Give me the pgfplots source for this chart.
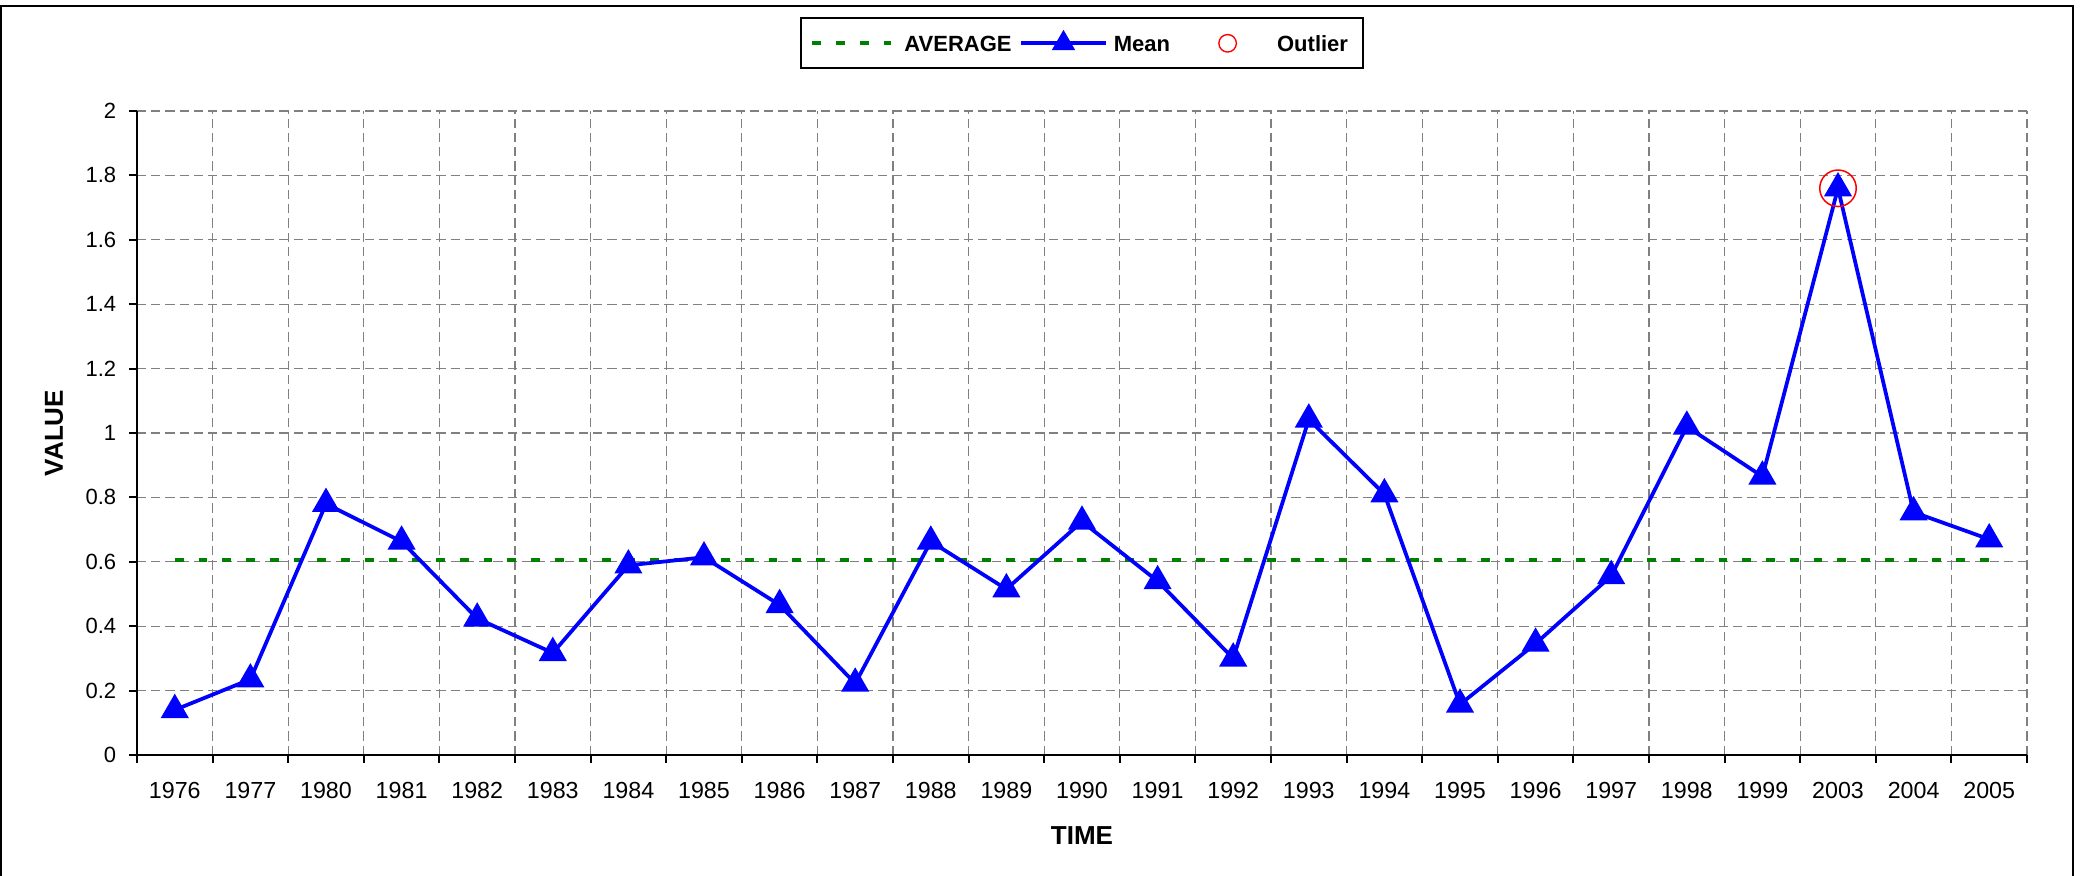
\documentclass[border=0pt]{standalone}
\usepackage{fontspec}
\setmainfont{Liberation Sans}
\usepackage{pgfplots}
\pgfplotsset{compat=1.18}
\definecolor{avggreen}{RGB}{0,128,0}
\definecolor{gridgray}{RGB}{128,128,128}
\pgfplotsset{
  avgimg/.style={legend image code/.code={\path (-3.9pt,0pt) (36pt,0pt);
    \draw[##1] (0pt,0pt) -- (31.6pt,0pt);}},
  meanimg/.style={legend image code/.code={\path (-3pt,0pt) (36.4pt,0pt);
    \draw[##1,mark size=3.9pt,mark repeat=2,mark phase=2] plot coordinates {(0pt,0pt) (17pt,0pt) (34pt,0pt)};}},
  outimg/.style={legend image code/.code={\path (-22.7pt,0pt) (19.5pt,0pt);
    \draw[red, line width=0.55pt] (0pt,0pt) circle[radius=3.5pt];}},
}
\begin{document}
\begin{tikzpicture}
\begin{axis}[
  at={(0pt,0pt)}, anchor=south west,
  scale only axis, width=756pt, height=257.6pt,
  xmin=-0.5, xmax=24.5, ymin=0, ymax=2,
  axis x line=bottom, axis y line=left,
  axis line style={-, black, line width=0.8pt},
  xtick={-0.5,0.5,1.5,2.5,3.5,4.5,5.5,6.5,7.5,8.5,9.5,10.5,11.5,12.5,13.5,14.5,15.5,16.5,17.5,18.5,19.5,20.5,21.5,22.5,23.5,24.5},
  x tick label as interval,
  xticklabels={1976,1977,1980,1981,1982,1983,1984,1985,1986,1987,1988,1989,1990,1991,1992,1993,1994,1995,1996,1997,1998,1999,2003,2004,2005},
  ytick={0,0.2,0.4,0.6,0.8,1,1.2,1.4,1.6,1.8,2},
  tick align=outside, major tick length=3.2pt,
  tick style={black, line width=0.8pt},
  grid=major,
  major grid style={gridgray, line width=0.45pt, dash pattern=on 3.7pt off 2pt},
  /pgf/number format/assume math mode=true,
  xticklabel style={font=\fontsize{9.3}{11}\selectfont, yshift=-4pt},
  yticklabel style={font=\fontsize{8.8}{10}\selectfont, xshift=-1.6pt},
  xlabel={TIME}, ylabel={VALUE},
  label style={font=\bfseries\fontsize{10.4}{12}\selectfont},
  xlabel style={at={(axis description cs:0.5,-0.1258)}, anchor=center},
  ylabel style={at={(axis description cs:-0.0439,0.5)}, anchor=center},
  legend columns=3,
  legend cell align=left,
  legend style={at={(0.5,1)}, anchor=south, yshift=16.8pt,
    draw=black, line width=0.8pt, inner xsep=0pt, inner ysep=6.1pt,
    column sep=0pt,
    font=\bfseries\fontsize{8.8}{10}\selectfont,
    nodes={inner sep=0pt, text height=6.6pt, text depth=0pt}},
]
\addplot[avggreen, line width=1.6pt, dash pattern=on 3.5pt off 6pt, avgimg]
  coordinates {(0,0.607) (24,0.607)};
\addlegendentry{AVERAGE}
\addplot[blue, line width=1.5pt, mark=triangle*, mark size=5pt, meanimg]
  coordinates {
  (0,0.14) (1,0.235) (2,0.78) (3,0.663) (4,0.424) (5,0.317) (6,0.589)
  (7,0.614) (8,0.466) (9,0.222) (10,0.663) (11,0.515) (12,0.725) (13,0.54)
  (14,0.30) (15,1.042) (16,0.81) (17,0.157) (18,0.346) (19,0.556) (20,1.02)
  (21,0.865) (22,1.76) (23,0.754) (24,0.67)};
\addlegendentry{Mean}
\addplot[red, only marks, mark=o, mark size=7.3pt, line width=0.6pt, outimg]
  coordinates {(22,1.76)};
\addlegendentry{Outlier\hspace*{6.1pt}}
\end{axis}
\path (-54.8pt,-48.4pt) rectangle (777.6pt,302pt);
\begin{scope}
\clip (-54.8pt,-48.4pt) rectangle (777.6pt,302pt);
\draw[line width=0.8pt] (-54.4pt,-60pt) -- (-54.4pt,299.6pt) -- (774.4pt,299.6pt) -- (774.4pt,-60pt);
\end{scope}
\end{tikzpicture}
\end{document}
